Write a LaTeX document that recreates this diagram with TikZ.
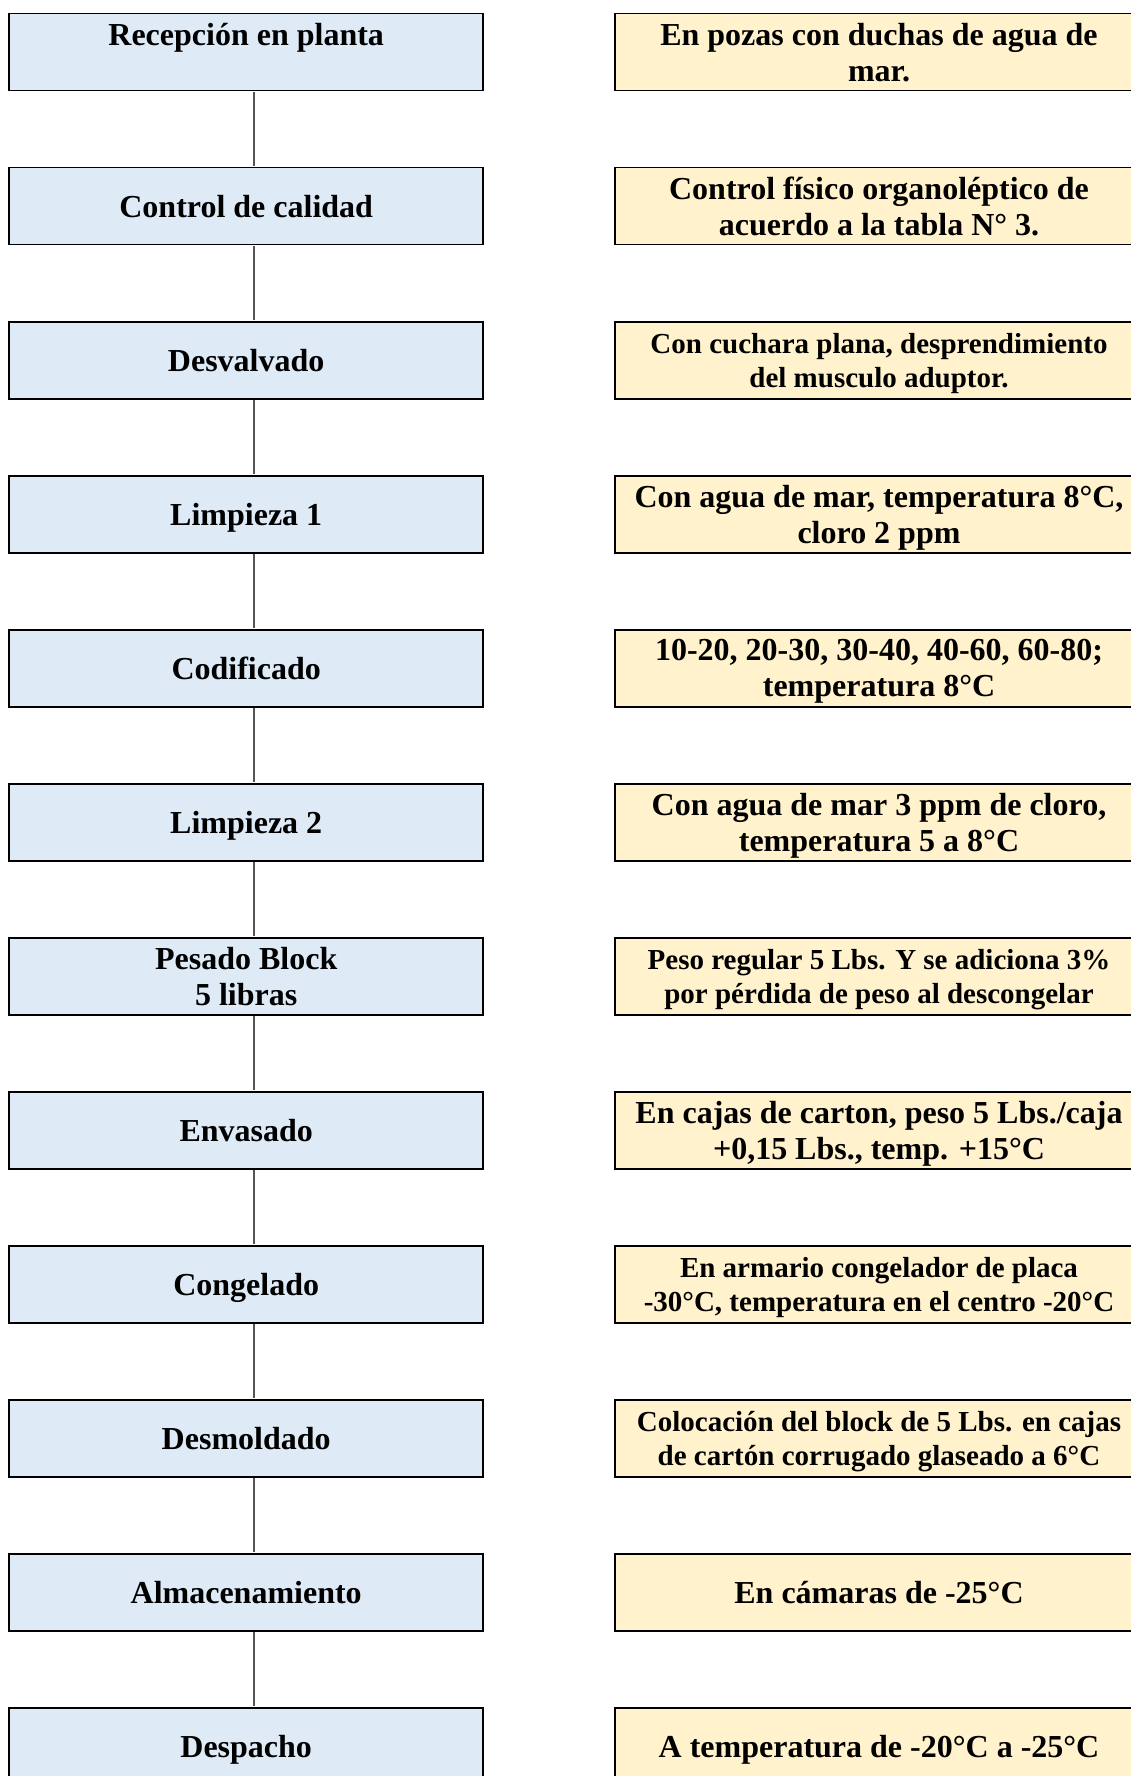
\documentclass[tikz,border=0pt]{standalone}
\usepackage{fontspec}
\setmainfont{Liberation Serif}
\definecolor{boxblue}{HTML}{DEEAF6}
\definecolor{boxyellow}{HTML}{FFF2CC}
\definecolor{linkgray}{HTML}{555555}
\tikzset{
  stepbox/.style={draw=black, line width=1.8pt, fill=boxblue, minimum width=474pt, minimum height=77pt, inner sep=0pt, align=center, text depth=0pt, font=\bfseries\fontsize{32}{36}\selectfont},
  notebox/.style={draw=black, line width=1.8pt, fill=boxyellow, minimum width=528pt, minimum height=77pt, inner sep=0pt, align=center, text depth=0pt, font=\bfseries\fontsize{32}{36}\selectfont},
  oneline/.style={text height=22pt, text depth=0pt},
  smalltext/.style={font=\bfseries\fontsize{29}{34}\selectfont},
  link/.style={draw=linkgray, line width=2pt}
}
\begin{document}
\begin{tikzpicture}[x=1pt,y=-1pt]
\useasboundingbox (0,0) rectangle (1131,1776);
\clip (0,0) rectangle (1131,1776);
\fill[white] (0,0) rectangle (1131,1776);
% left column
\node[stepbox] (L0) at (246.2,52.1) {Recepción en planta\\ \mbox{}};
\node[stepbox, oneline] (L1) at (246.2,206.1) {Control de calidad};
\node[stepbox, oneline] (L2) at (246.2,360.1) {Desvalvado};
\node[stepbox, oneline] (L3) at (246.2,514.1) {Limpieza 1};
\node[stepbox, oneline] (L4) at (246.2,668.1) {Codificado};
\node[stepbox, oneline] (L5) at (246.2,822.1) {Limpieza 2};
\node[stepbox] (L6) at (246.2,976.1) {Pesado Block\\5 libras};
\node[stepbox, oneline] (L7) at (246.2,1130.1) {Envasado};
\node[stepbox, oneline] (L8) at (246.2,1284.1) {Congelado};
\node[stepbox, oneline] (L9) at (246.2,1438.1) {Desmoldado};
\node[stepbox, oneline] (L10) at (246.2,1592.1) {Almacenamiento};
\node[stepbox, oneline] (L11) at (246.2,1746.1) {Despacho};
% right column
\node[notebox] (R0) at (879,52.1) {En pozas con duchas de agua de\\mar.};
\node[notebox] (R1) at (879,206.1) {Control físico organoléptico de\\acuerdo a la tabla N° 3.};
\node[notebox, smalltext] (R2) at (879,360.1) {Con cuchara plana, desprendimiento\\del musculo aduptor.};
\node[notebox] (R3) at (879,514.1) {Con agua de mar, temperatura 8°C,\\cloro 2 ppm};
\node[notebox] (R4) at (879,668.1) {10-20, 20-30, 30-40, 40-60, 60-80;\\temperatura 8°C};
\node[notebox] (R5) at (879,822.1) {Con agua de mar 3 ppm de cloro,\\temperatura 5 a 8°C};
\node[notebox, smalltext] (R6) at (879,976.1) {Peso regular 5 Lbs. Y se adiciona 3\%\\por pérdida de peso al descongelar};
\node[notebox] (R7) at (879,1130.1) {En cajas de carton, peso 5 Lbs./caja\\+0,15 Lbs., temp. +15°C};
\node[notebox, smalltext] (R8) at (879,1284.1) {En armario congelador de placa\\-30°C, temperatura en el centro -20°C};
\node[notebox, smalltext] (R9) at (879,1438.1) {Colocación del block de 5 Lbs. en cajas\\de cartón corrugado glaseado a 6°C};
\node[notebox, oneline] (R10) at (879,1592.1) {En cámaras de -25°C};
\node[notebox, oneline] (R11) at (879,1746.1) {A temperatura de -20°C a -25°C};
% connectors
\foreach \a/\b in {L0/L1,L1/L2,L2/L3,L3/L4,L4/L5,L5/L6,L6/L7,L7/L8,L8/L9,L9/L10,L10/L11}
  \draw[link] ([xshift=7.4pt,yshift=-0.9pt]\a.south) -- ([xshift=7.4pt,yshift=0.9pt]\b.north);
\end{tikzpicture}
\end{document}
